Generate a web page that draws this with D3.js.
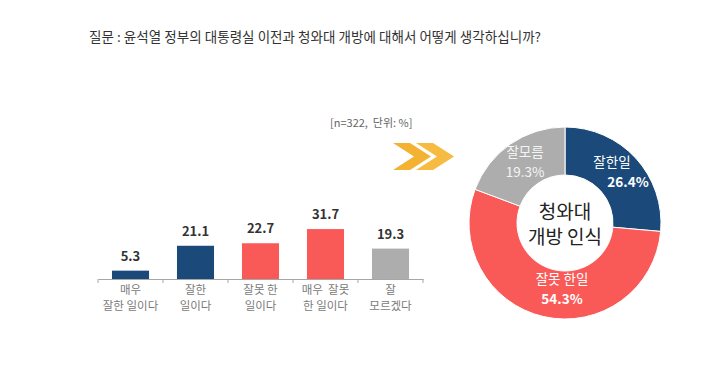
<!DOCTYPE html>
<html>
<head>
<meta charset="utf-8">
<script src="https://cdn.jsdelivr.net/npm/d3@7"></script>
<style>
  html, body { margin: 0; padding: 0; background: #fff; }
  svg { display: block; font-family: "Noto Sans CJK KR", "Noto Sans", sans-serif; }
</style>
</head>
<body>
<svg id="chart" width="720" height="388"></svg>
<script>
// Data
const title = '질문 : 윤석열 정부의 대통령실 이전과 청와대 개방에 대해서 어떻게 생각하십니까?';
const note = '[n=322,  단위: %]';
const categories = ['매우|잘한 일이다', '잘한|일이다', '잘못 한|일이다', '매우  잘못|한 일이다', '잘|모르겠다'];
const values = [5.3, 21.1, 22.7, 31.7, 19.3];
const barColors = ['#1b4a7a', '#1b4a7a', '#fa5a57', '#fa5a57', '#adadad'];

const donutNames = ['잘한일', '잘못 한일', '잘모름'];
const donutValues = [26.4, 54.3, 19.3];
const donutColors = ['#1b4a7a', '#fa5a57', '#adadad'];
const donutCenter = ['청와대', '개방 인식'];

const svg = d3.select('#chart');

// Title
svg.append('text')
  .attr('x', 89).attr('y', 42)
  .attr('font-size', 13.5)
  .attr('fill', '#333')
  .attr('textLength', 452)
  .text(title);

// Note
svg.append('text')
  .attr('x', 330).attr('y', 127)
  .attr('font-size', 11)
  .attr('fill', '#666')
  .attr('xml:space', 'preserve')
  .text(note);

/*
 * Bar chart
 */
const x = d3.scaleBand()
  .domain(categories)
  .range([98, 423])
  .paddingInner(0.43)
  .paddingOuter(0.215);

const y = d3.scaleLinear()
  .domain([0, 40])
  .range([279, 216]);

const bars = svg.append('g');

bars.selectAll('rect')
  .data(values)
  .enter().append('rect')
    .attr('x', (d, i) => x(categories[i]))
    .attr('y', d => y(d))
    .attr('width', x.bandwidth())
    .attr('height', d => y(0) - y(d))
    .attr('fill', (d, i) => barColors[i]);

bars.selectAll('text.val')
  .data(values)
  .enter().append('text')
    .attr('class', 'val')
    .attr('x', (d, i) => x(categories[i]) + x.bandwidth() / 2)
    .attr('y', d => y(d) - 10)
    .attr('text-anchor', 'middle')
    .attr('font-size', 13)
    .attr('font-weight', 'bold')
    .attr('fill', '#333')
    .text(d => d.toFixed(1));

// Axis line with ticks between the bars
const axis = svg.append('g')
  .attr('transform', 'translate(0,' + y(0) + ')')
  .call(d3.axisBottom(x).tickSize(0).tickFormat(''));
axis.select('.domain').attr('stroke', '#a6a6a6');

const half = x.step() * x.paddingInner() / 2;
const tickXs = categories.map(c => x(c) - half).concat([x(categories[4]) + x.bandwidth() + half]);
axis.selectAll('line.sep')
  .data(tickXs)
  .enter().append('line')
    .attr('class', 'sep')
    .attr('x1', d => d).attr('x2', d => d)
    .attr('y1', 0).attr('y2', 4)
    .attr('stroke', '#a6a6a6');

// Category labels, one text per line
const catLines = [];
categories.forEach(c => {
  c.split('|').forEach((line, j) => catLines.push({ c: c, line: line, j: j }));
});

svg.append('g').selectAll('text')
  .data(catLines)
  .enter().append('text')
    .attr('x', d => x(d.c) + x.bandwidth() / 2)
    .attr('y', d => 294 + d.j * 16)
    .attr('text-anchor', 'middle')
    .attr('font-size', 11.5)
    .attr('fill', '#7a7a7a')
    .attr('xml:space', 'preserve')
    .text(d => d.line);

/*
 * Chevrons
 */
const chevron = (x0, w, t, top, h) => [
  [x0, top], [x0 + t, top], [x0 + w, top + h / 2],
  [x0 + t, top + h], [x0, top + h], [x0 + w - t, top + h / 2]
];
const chev = svg.append('g');
[[393, '#f3b232'], [416, '#f6bb40']].forEach(([cx, col]) => {
  chev.append('polygon')
    .attr('points', chevron(cx, 38, 17, 143, 27).map(p => p.join(',')).join(' '))
    .attr('fill', col);
});

/*
 * Donut
 */
const cx = 565, cy = 223, outerR = 96, innerR = 48;
const pie = d3.pie().sort(null).value(d => d);
const arc = d3.arc().innerRadius(innerR).outerRadius(outerR);
const arcs = pie(donutValues);

const donut = svg.append('g')
  .attr('transform', 'translate(' + cx + ',' + cy + ')');

donut.selectAll('path')
  .data(arcs)
  .enter().append('path')
    .attr('d', arc)
    .attr('fill', (d, i) => donutColors[i])
    .attr('stroke', '#fff')
    .attr('stroke-width', 1);

// slice labels
const labelPos = [[47, -56], [-3, 61], [-40, -66]];
donut.selectAll('g.lab')
  .data(arcs)
  .enter().append('g')
    .attr('class', 'lab')
    .each(function(d, i) {
      const g = d3.select(this);
      const [lx, ly] = labelPos[i];
      g.append('text')
        .attr('x', lx).attr('y', ly)
        .attr('text-anchor', 'middle')
        .attr('font-size', 13.5)
        .attr('fill', i === 2 ? '#f4f4f4' : '#fff')
        .text(donutNames[i]);
      g.append('text')
        .attr('x', i === 0 ? lx + 16 : lx).attr('y', ly + 20)
        .attr('text-anchor', 'middle')
        .attr('font-size', 13.5)
        .attr('font-weight', i === 2 ? 'normal' : 'bold')
        .attr('fill', i === 2 ? '#f4f4f4' : '#fff')
        .text(donutValues[i].toFixed(1) + '%');
    });

donut.selectAll('text.center')
  .data(donutCenter)
  .enter().append('text')
    .attr('class', 'center')
    .attr('x', 0)
    .attr('y', (d, i) => -4 + i * 25)
    .attr('text-anchor', 'middle')
    .attr('font-size', 19)
    .attr('fill', '#222')
    .attr('xml:space', 'preserve')
    .text(d => d);
</script>
</body>
</html>
